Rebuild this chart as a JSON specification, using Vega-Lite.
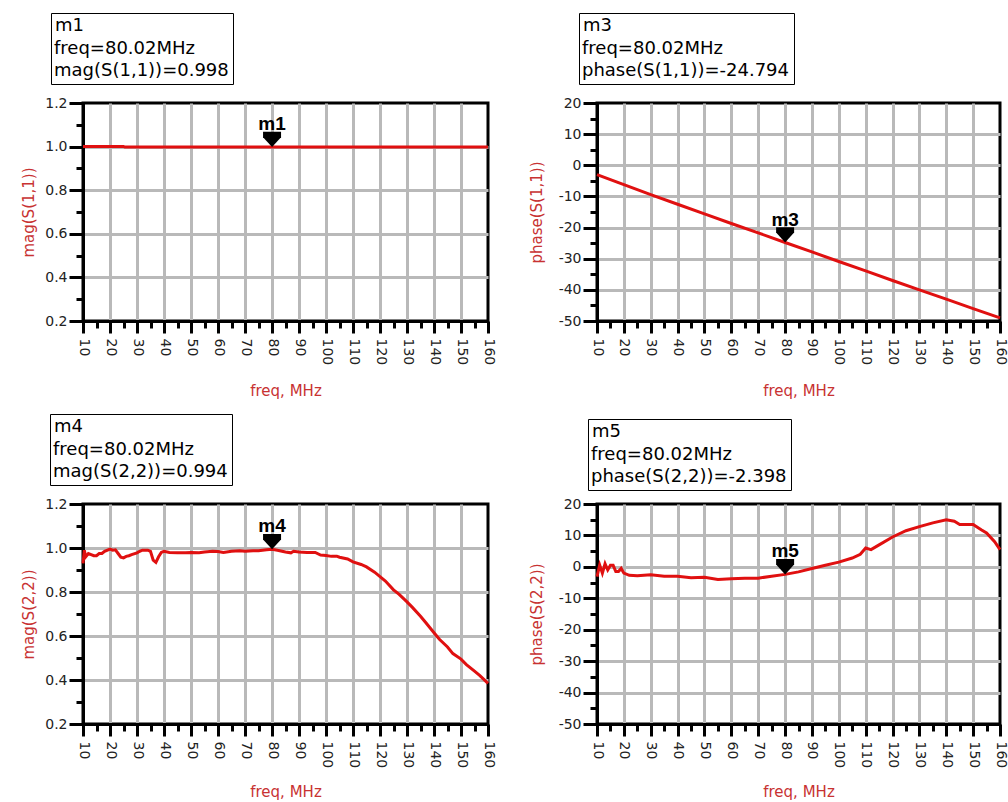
{
  "$schema": "https://vega.github.io/schema/vega-lite/v6.json",
  "background": "white",
  "padding": {"left": 20, "top": 11, "right": 2, "bottom": 2},
  "columns": 2,
  "spacing": {"row": 183, "column": 109},
  "bounds": "flush",
  "resolve": {"scale": {"color": "independent"}, "legend": {"color": "independent"}},
  "datasets": {
    "s11mag": [
      {"freq": 10, "value": 1.001}, {"freq": 25, "value": 1.001}, {"freq": 25.5, "value": 0.998},
      {"freq": 80.02, "value": 0.998}, {"freq": 160, "value": 0.998}
    ],
    "s11phase": [
      {"freq": 10, "value": -3.0}, {"freq": 20, "value": -6.2}, {"freq": 30, "value": -9.4},
      {"freq": 40, "value": -12.5}, {"freq": 50, "value": -15.6}, {"freq": 60, "value": -18.7},
      {"freq": 70, "value": -21.7}, {"freq": 80.02, "value": -24.794}, {"freq": 90, "value": -27.8},
      {"freq": 100, "value": -30.9}, {"freq": 110, "value": -33.9}, {"freq": 120, "value": -37.0},
      {"freq": 130, "value": -40.0}, {"freq": 140, "value": -43.0}, {"freq": 150, "value": -46.0},
      {"freq": 160, "value": -49.0}
    ],
    "s22mag": [
      {"freq": 10, "value": 0.93}, {"freq": 10.5, "value": 0.99}, {"freq": 11, "value": 0.96},
      {"freq": 12, "value": 0.975}, {"freq": 13, "value": 0.97}, {"freq": 14, "value": 0.965},
      {"freq": 15, "value": 0.965}, {"freq": 16, "value": 0.975}, {"freq": 17, "value": 0.975},
      {"freq": 18, "value": 0.985}, {"freq": 20, "value": 0.995}, {"freq": 21, "value": 0.99},
      {"freq": 22, "value": 0.992}, {"freq": 23, "value": 0.975}, {"freq": 24, "value": 0.958},
      {"freq": 25, "value": 0.955}, {"freq": 26, "value": 0.962}, {"freq": 27, "value": 0.965},
      {"freq": 28, "value": 0.97}, {"freq": 30, "value": 0.978}, {"freq": 31, "value": 0.985},
      {"freq": 32, "value": 0.99}, {"freq": 34, "value": 0.99}, {"freq": 35, "value": 0.985},
      {"freq": 36, "value": 0.945}, {"freq": 37, "value": 0.935}, {"freq": 38, "value": 0.96},
      {"freq": 39, "value": 0.98}, {"freq": 40, "value": 0.985}, {"freq": 42, "value": 0.98},
      {"freq": 45, "value": 0.978}, {"freq": 48, "value": 0.978}, {"freq": 50, "value": 0.98},
      {"freq": 53, "value": 0.978}, {"freq": 55, "value": 0.982}, {"freq": 58, "value": 0.985},
      {"freq": 60, "value": 0.984}, {"freq": 62, "value": 0.98}, {"freq": 65, "value": 0.985},
      {"freq": 68, "value": 0.987}, {"freq": 70, "value": 0.985}, {"freq": 73, "value": 0.987},
      {"freq": 75, "value": 0.988}, {"freq": 78, "value": 0.992}, {"freq": 80.02, "value": 0.994},
      {"freq": 82, "value": 0.99}, {"freq": 85, "value": 0.982}, {"freq": 87, "value": 0.978},
      {"freq": 88, "value": 0.985}, {"freq": 90, "value": 0.982}, {"freq": 93, "value": 0.98},
      {"freq": 96, "value": 0.98}, {"freq": 98, "value": 0.968}, {"freq": 100, "value": 0.966},
      {"freq": 102, "value": 0.962}, {"freq": 104, "value": 0.963}, {"freq": 105, "value": 0.958},
      {"freq": 108, "value": 0.95}, {"freq": 110, "value": 0.937}, {"freq": 113, "value": 0.925},
      {"freq": 115, "value": 0.914}, {"freq": 118, "value": 0.89}, {"freq": 120, "value": 0.87},
      {"freq": 122, "value": 0.85}, {"freq": 125, "value": 0.81}, {"freq": 127, "value": 0.79},
      {"freq": 130, "value": 0.755}, {"freq": 132, "value": 0.73}, {"freq": 135, "value": 0.69},
      {"freq": 137, "value": 0.66}, {"freq": 140, "value": 0.615}, {"freq": 142, "value": 0.585},
      {"freq": 145, "value": 0.55}, {"freq": 147, "value": 0.52}, {"freq": 150, "value": 0.495},
      {"freq": 152, "value": 0.47}, {"freq": 155, "value": 0.44}, {"freq": 157, "value": 0.42},
      {"freq": 160, "value": 0.385}
    ],
    "s22phase": [
      {"freq": 10, "value": -3.1}, {"freq": 11, "value": 0.6}, {"freq": 12, "value": -2.0},
      {"freq": 13, "value": 1.0}, {"freq": 14, "value": -1.0}, {"freq": 15, "value": 0.5},
      {"freq": 16, "value": 0.5}, {"freq": 17, "value": -1.5}, {"freq": 18, "value": -1.5},
      {"freq": 19, "value": -0.5}, {"freq": 20, "value": -2.0}, {"freq": 22, "value": -2.7},
      {"freq": 25, "value": -2.8}, {"freq": 30, "value": -2.5}, {"freq": 35, "value": -3.0},
      {"freq": 40, "value": -3.0}, {"freq": 45, "value": -3.5}, {"freq": 50, "value": -3.3},
      {"freq": 55, "value": -4.0}, {"freq": 60, "value": -3.8}, {"freq": 65, "value": -3.6},
      {"freq": 70, "value": -3.6}, {"freq": 75, "value": -3.0}, {"freq": 80.02, "value": -2.398},
      {"freq": 85, "value": -1.6}, {"freq": 90, "value": -0.5}, {"freq": 95, "value": 0.5},
      {"freq": 100, "value": 1.5}, {"freq": 105, "value": 2.8}, {"freq": 108, "value": 4.0},
      {"freq": 110, "value": 6.0}, {"freq": 112, "value": 5.5}, {"freq": 115, "value": 7.0},
      {"freq": 120, "value": 9.5}, {"freq": 125, "value": 11.5}, {"freq": 130, "value": 12.8},
      {"freq": 135, "value": 14.0}, {"freq": 140, "value": 15.0}, {"freq": 143, "value": 14.5},
      {"freq": 145, "value": 13.5}, {"freq": 150, "value": 13.5}, {"freq": 153, "value": 11.8},
      {"freq": 155, "value": 10.8}, {"freq": 158, "value": 8.0}, {"freq": 160, "value": 5.5}
    ],
    "markers": [
      {"panel": "m1", "marker": "m1", "freq": 80.02, "value": 0.998},
      {"panel": "m3", "marker": "m3", "freq": 80.02, "value": -24.794},
      {"panel": "m4", "marker": "m4", "freq": 80.02, "value": 0.994},
      {"panel": "m5", "marker": "m5", "freq": 80.02, "value": -2.398}
    ],
    "readouts": [
      {"panel": "m1", "line": "freq=80.02MHz"}, {"panel": "m1", "line": "mag(S(1,1))=0.998"},
      {"panel": "m3", "line": "freq=80.02MHz"}, {"panel": "m3", "line": "phase(S(1,1))=-24.794"},
      {"panel": "m4", "line": "freq=80.02MHz"}, {"panel": "m4", "line": "mag(S(2,2))=0.994"},
      {"panel": "m5", "line": "freq=80.02MHz"}, {"panel": "m5", "line": "phase(S(2,2))=-2.398"}
    ]
  },
  "concat": [
    {
      "width": 405, "height": 218,
      "layer": [
        {
          "data": {"name": "s11mag"},
          "mark": {"type": "line", "color": "#e01010", "strokeWidth": 3},
          "encoding": {
            "x": {"field": "freq", "type": "quantitative", "scale": {"domain": [10, 160], "nice": false, "zero": false},
              "axis": {"title": "freq, MHz", "tickCount": 200, "values": [10,15,20,25,30,35,40,45,50,55,60,65,70,75,80,85,90,95,100,105,110,115,120,125,130,135,140,145,150,155,160],
                "labelExpr": "datum.value % 10 === 0 ? '' + datum.value : ''", "labelAngle": 90, "labelPadding": 5, "titlePadding": 19, "labelOverlap": false, "labelBound": false,
                "tickSize": {"condition": {"test": "datum.value % 10 === 0", "value": 12}, "value": 7},
                "grid": true, "gridOpacity": {"condition": {"test": "datum.value % 10 === 0 && datum.value > 10 && datum.value < 160", "value": 1}, "value": 0}}},
            "y": {"field": "value", "type": "quantitative", "scale": {"domain": [0.2, 1.2], "nice": false, "zero": false},
              "axis": {"title": "mag(S(1,1))", "tickCount": 200, "values": [0.2,0.3,0.4,0.5,0.6,0.7,0.8,0.9,1.0,1.1,1.2],
                "labelExpr": "round(datum.value*10) % 2 === 0 ? format(datum.value, '.1f') : ''", "labelPadding": 2, "titlePadding": 8, "labelOverlap": false, "labelBound": false,
                "tickSize": {"condition": {"test": "round(datum.value*10) % 2 === 0", "value": 14}, "value": 7},
                "grid": true, "gridOpacity": {"condition": {"test": "round(datum.value*10) % 2 === 0 && datum.value > 0.25 && datum.value < 1.15", "value": 1}, "value": 0}}}
          }
        },
        {
          "data": {"name": "markers"}, "transform": [{"filter": "datum.panel === 'm1'"}],
          "mark": {"type": "point", "shape": "M-1,-1.7L1,-1.7L1,-1.1L0,0L-1,-1.1Z", "size": 324, "filled": true, "color": "black", "opacity": 1},
          "encoding": {"x": {"field": "freq", "type": "quantitative"}, "y": {"field": "value", "type": "quantitative"}}
        },
        {
          "data": {"name": "markers"}, "transform": [{"filter": "datum.panel === 'm1'"}],
          "mark": {"type": "text", "font": "Liberation Sans", "fontWeight": "bold", "fontSize": 19, "dy": -17, "baseline": "alphabetic", "color": "black"},
          "encoding": {"x": {"field": "freq", "type": "quantitative"}, "y": {"field": "value", "type": "quantitative"}, "text": {"field": "marker"}}
        },
        {
          "data": {"name": "readouts"}, "transform": [{"filter": "datum.panel === 'm1'"}],
          "mark": {"type": "point", "opacity": 0},
          "encoding": {"color": {"field": "line", "type": "nominal", "scale": {"range": ["black", "black"]},
            "legend": {"title": "m1", "orient": "none", "legendX": -32, "legendY": -90}}}
        }
      ]
    },
    {
      "width": 403, "height": 218,
      "layer": [
        {
          "data": {"name": "s11phase"},
          "mark": {"type": "line", "color": "#e01010", "strokeWidth": 3},
          "encoding": {
            "x": {"field": "freq", "type": "quantitative", "scale": {"domain": [10, 160], "nice": false, "zero": false},
              "axis": {"title": "freq, MHz", "tickCount": 200, "values": [10,15,20,25,30,35,40,45,50,55,60,65,70,75,80,85,90,95,100,105,110,115,120,125,130,135,140,145,150,155,160],
                "labelExpr": "datum.value % 10 === 0 ? '' + datum.value : ''", "labelAngle": 90, "labelPadding": 5, "titlePadding": 19, "labelOverlap": false, "labelBound": false,
                "tickSize": {"condition": {"test": "datum.value % 10 === 0", "value": 12}, "value": 7},
                "grid": true, "gridOpacity": {"condition": {"test": "datum.value % 10 === 0 && datum.value > 10 && datum.value < 160", "value": 1}, "value": 0}}},
            "y": {"field": "value", "type": "quantitative", "scale": {"domain": [-50, 20], "nice": false, "zero": false},
              "axis": {"title": "phase(S(1,1))", "tickCount": 200, "values": [-50,-45,-40,-35,-30,-25,-20,-15,-10,-5,0,5,10,15,20],
                "labelExpr": "datum.value % 10 === 0 ? '' + datum.value : ''", "labelPadding": 2, "titlePadding": 14, "labelOverlap": false, "labelBound": false,
                "tickSize": {"condition": {"test": "datum.value % 10 === 0", "value": 14}, "value": 7},
                "grid": true, "gridOpacity": {"condition": {"test": "datum.value % 10 === 0 && datum.value > -50 && datum.value < 20", "value": 1}, "value": 0}}}
          }
        },
        {
          "data": {"name": "markers"}, "transform": [{"filter": "datum.panel === 'm3'"}],
          "mark": {"type": "point", "shape": "M-1,-1.7L1,-1.7L1,-1.1L0,0L-1,-1.1Z", "size": 324, "filled": true, "color": "black", "opacity": 1},
          "encoding": {"x": {"field": "freq", "type": "quantitative"}, "y": {"field": "value", "type": "quantitative"}}
        },
        {
          "data": {"name": "markers"}, "transform": [{"filter": "datum.panel === 'm3'"}],
          "mark": {"type": "text", "font": "Liberation Sans", "fontWeight": "bold", "fontSize": 19, "dy": -17, "baseline": "alphabetic", "color": "black"},
          "encoding": {"x": {"field": "freq", "type": "quantitative"}, "y": {"field": "value", "type": "quantitative"}, "text": {"field": "marker"}}
        },
        {
          "data": {"name": "readouts"}, "transform": [{"filter": "datum.panel === 'm3'"}],
          "mark": {"type": "point", "opacity": 0},
          "encoding": {"color": {"field": "line", "type": "nominal", "scale": {"range": ["black", "black"]},
            "legend": {"title": "m3", "orient": "none", "legendX": -18, "legendY": -90}}}
        }
      ]
    },
    {
      "width": 405, "height": 220,
      "layer": [
        {
          "data": {"name": "s22mag"},
          "mark": {"type": "line", "color": "#e01010", "strokeWidth": 3},
          "encoding": {
            "x": {"field": "freq", "type": "quantitative", "scale": {"domain": [10, 160], "nice": false, "zero": false},
              "axis": {"title": "freq, MHz", "tickCount": 200, "values": [10,15,20,25,30,35,40,45,50,55,60,65,70,75,80,85,90,95,100,105,110,115,120,125,130,135,140,145,150,155,160],
                "labelExpr": "datum.value % 10 === 0 ? '' + datum.value : ''", "labelAngle": 90, "labelPadding": 5, "titlePadding": 17, "labelOverlap": false, "labelBound": false,
                "tickSize": {"condition": {"test": "datum.value % 10 === 0", "value": 12}, "value": 7},
                "grid": true, "gridOpacity": {"condition": {"test": "datum.value % 10 === 0 && datum.value > 10 && datum.value < 160", "value": 1}, "value": 0}}},
            "y": {"field": "value", "type": "quantitative", "scale": {"domain": [0.2, 1.2], "nice": false, "zero": false},
              "axis": {"title": "mag(S(2,2))", "tickCount": 200, "values": [0.2,0.3,0.4,0.5,0.6,0.7,0.8,0.9,1.0,1.1,1.2],
                "labelExpr": "round(datum.value*10) % 2 === 0 ? format(datum.value, '.1f') : ''", "labelPadding": 2, "titlePadding": 8, "labelOverlap": false, "labelBound": false,
                "tickSize": {"condition": {"test": "round(datum.value*10) % 2 === 0", "value": 14}, "value": 7},
                "grid": true, "gridOpacity": {"condition": {"test": "round(datum.value*10) % 2 === 0 && datum.value > 0.25 && datum.value < 1.15", "value": 1}, "value": 0}}}
          }
        },
        {
          "data": {"name": "markers"}, "transform": [{"filter": "datum.panel === 'm4'"}],
          "mark": {"type": "point", "shape": "M-1,-1.7L1,-1.7L1,-1.1L0,0L-1,-1.1Z", "size": 324, "filled": true, "color": "black", "opacity": 1},
          "encoding": {"x": {"field": "freq", "type": "quantitative"}, "y": {"field": "value", "type": "quantitative"}}
        },
        {
          "data": {"name": "markers"}, "transform": [{"filter": "datum.panel === 'm4'"}],
          "mark": {"type": "text", "font": "Liberation Sans", "fontWeight": "bold", "fontSize": 19, "dy": -17, "baseline": "alphabetic", "color": "black"},
          "encoding": {"x": {"field": "freq", "type": "quantitative"}, "y": {"field": "value", "type": "quantitative"}, "text": {"field": "marker"}}
        },
        {
          "data": {"name": "readouts"}, "transform": [{"filter": "datum.panel === 'm4'"}],
          "mark": {"type": "point", "opacity": 0},
          "encoding": {"color": {"field": "line", "type": "nominal", "scale": {"range": ["black", "black"]},
            "legend": {"title": "m4", "orient": "none", "legendX": -33, "legendY": -90}}}
        }
      ]
    },
    {
      "width": 403, "height": 220,
      "layer": [
        {
          "data": {"name": "s22phase"},
          "mark": {"type": "line", "color": "#e01010", "strokeWidth": 3},
          "encoding": {
            "x": {"field": "freq", "type": "quantitative", "scale": {"domain": [10, 160], "nice": false, "zero": false},
              "axis": {"title": "freq, MHz", "tickCount": 200, "values": [10,15,20,25,30,35,40,45,50,55,60,65,70,75,80,85,90,95,100,105,110,115,120,125,130,135,140,145,150,155,160],
                "labelExpr": "datum.value % 10 === 0 ? '' + datum.value : ''", "labelAngle": 90, "labelPadding": 5, "titlePadding": 17, "labelOverlap": false, "labelBound": false,
                "tickSize": {"condition": {"test": "datum.value % 10 === 0", "value": 12}, "value": 7},
                "grid": true, "gridOpacity": {"condition": {"test": "datum.value % 10 === 0 && datum.value > 10 && datum.value < 160", "value": 1}, "value": 0}}},
            "y": {"field": "value", "type": "quantitative", "scale": {"domain": [-50, 20], "nice": false, "zero": false},
              "axis": {"title": "phase(S(2,2))", "tickCount": 200, "values": [-50,-45,-40,-35,-30,-25,-20,-15,-10,-5,0,5,10,15,20],
                "labelExpr": "datum.value % 10 === 0 ? '' + datum.value : ''", "labelPadding": 2, "titlePadding": 14, "labelOverlap": false, "labelBound": false,
                "tickSize": {"condition": {"test": "datum.value % 10 === 0", "value": 14}, "value": 7},
                "grid": true, "gridOpacity": {"condition": {"test": "datum.value % 10 === 0 && datum.value > -50 && datum.value < 20", "value": 1}, "value": 0}}}
          }
        },
        {
          "data": {"name": "markers"}, "transform": [{"filter": "datum.panel === 'm5'"}],
          "mark": {"type": "point", "shape": "M-1,-1.7L1,-1.7L1,-1.1L0,0L-1,-1.1Z", "size": 324, "filled": true, "color": "black", "opacity": 1},
          "encoding": {"x": {"field": "freq", "type": "quantitative"}, "y": {"field": "value", "type": "quantitative"}}
        },
        {
          "data": {"name": "markers"}, "transform": [{"filter": "datum.panel === 'm5'"}],
          "mark": {"type": "text", "font": "Liberation Sans", "fontWeight": "bold", "fontSize": 19, "dy": -17, "baseline": "alphabetic", "color": "black"},
          "encoding": {"x": {"field": "freq", "type": "quantitative"}, "y": {"field": "value", "type": "quantitative"}, "text": {"field": "marker"}}
        },
        {
          "data": {"name": "readouts"}, "transform": [{"filter": "datum.panel === 'm5'"}],
          "mark": {"type": "point", "opacity": 0},
          "encoding": {"color": {"field": "line", "type": "nominal", "scale": {"range": ["black", "black"]},
            "legend": {"title": "m5", "orient": "none", "legendX": -9, "legendY": -85}}}
        }
      ]
    }
  ],
  "config": {
    "font": "DejaVu Sans",
    "view": {"stroke": "black", "strokeWidth": 3},
    "axis": {
      "labelFont": "DejaVu Sans", "labelFontSize": 14, "labelColor": "#222222",
      "tickWidth": 3, "tickColor": "black", "domainColor": "black", "domainWidth": 3,
      "gridColor": "#b9b9b9", "gridWidth": 3,
      "titleColor": "#c83232", "titleFont": "DejaVu Sans", "titleFontSize": 15, "titleFontWeight": "normal",
      "labelOverlap": false, "labelFlush": false
    },
    "legend": {
      "strokeColor": "black", "fillColor": "white", "padding": 4,
      "titleFont": "DejaVu Sans", "labelFont": "DejaVu Sans", "titleFontSize": 18, "labelFontSize": 18,
      "titleFontWeight": "normal", "titleColor": "black", "labelColor": "black",
      "symbolSize": 0, "symbolOpacity": 0, "symbolStrokeWidth": 0, "labelOffset": -19,
      "rowPadding": 4, "titlePadding": 5, "labelLimit": 400, "titleLimit": 400, "direction": "vertical"
    }
  }
}
